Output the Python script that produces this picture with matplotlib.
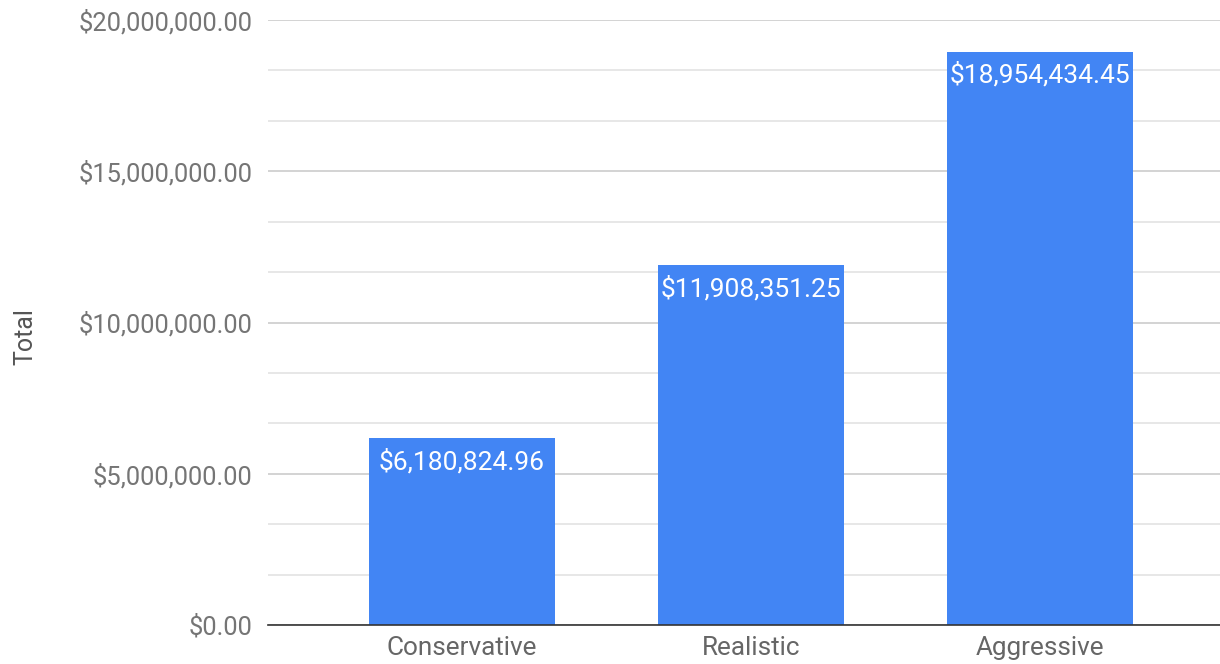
import matplotlib
matplotlib.use("Agg")
import matplotlib.pyplot as plt
from matplotlib.ticker import MultipleLocator, FuncFormatter

categories = ["Conservative", "Realistic", "Aggressive"]
totals = [6180824.96, 11908351.25, 18954434.45]
y_label = "Total"

plt.rcParams['font.family'] = ['Roboto', 'DejaVu Sans']

fig = plt.figure(figsize=(12.2, 6.64), dpi=100)
ax = fig.add_axes([268/1220, 1 - 625/664, 1 - 268/1220, (625 - 20)/664])

x = list(range(len(categories)))
bars = ax.bar(x, totals, width=0.644, color="#4285F4", zorder=3)

ax.set_xlim(-0.671, 2.623)
ax.set_ylim(0, 20000000)

ax.yaxis.set_major_locator(MultipleLocator(5000000))
ax.yaxis.set_minor_locator(MultipleLocator(5000000/3))
ax.yaxis.set_major_formatter(FuncFormatter(lambda v, p: f"${v:,.2f}"))
ax.grid(axis='y', which='major', color="#cccccc", linewidth=1.2, zorder=0)
ax.grid(axis='y', which='minor', color="#e3e3e3", linewidth=1.2, zorder=0)

ax.set_xticks(x)
ax.set_xticklabels(categories)
ax.tick_params(axis='x', length=0, pad=8, labelsize=18.8, labelcolor="#666666")
ax.tick_params(axis='y', which='both', length=0, pad=11, labelsize=18.4, labelcolor="#757575")

for s in ['top', 'right', 'left']:
    ax.spines[s].set_visible(False)
ax.spines['bottom'].set_color("#333333")
ax.spines['bottom'].set_linewidth(1.2)
ax.spines['bottom'].set_zorder(4)

ax.set_ylabel(y_label, fontsize=18, color="#555555", labelpad=30)
ax.yaxis.label.set_position((0, (625 - 337)/605))

for xi, v in zip(x, totals):
    ax.annotate(f"${v:,.2f}", xy=(xi, v), xytext=(0, -17), textcoords='offset points',
                ha='center', va='center', color='white', fontsize=19, zorder=5)

fig.savefig("out.png", dpi=100)
